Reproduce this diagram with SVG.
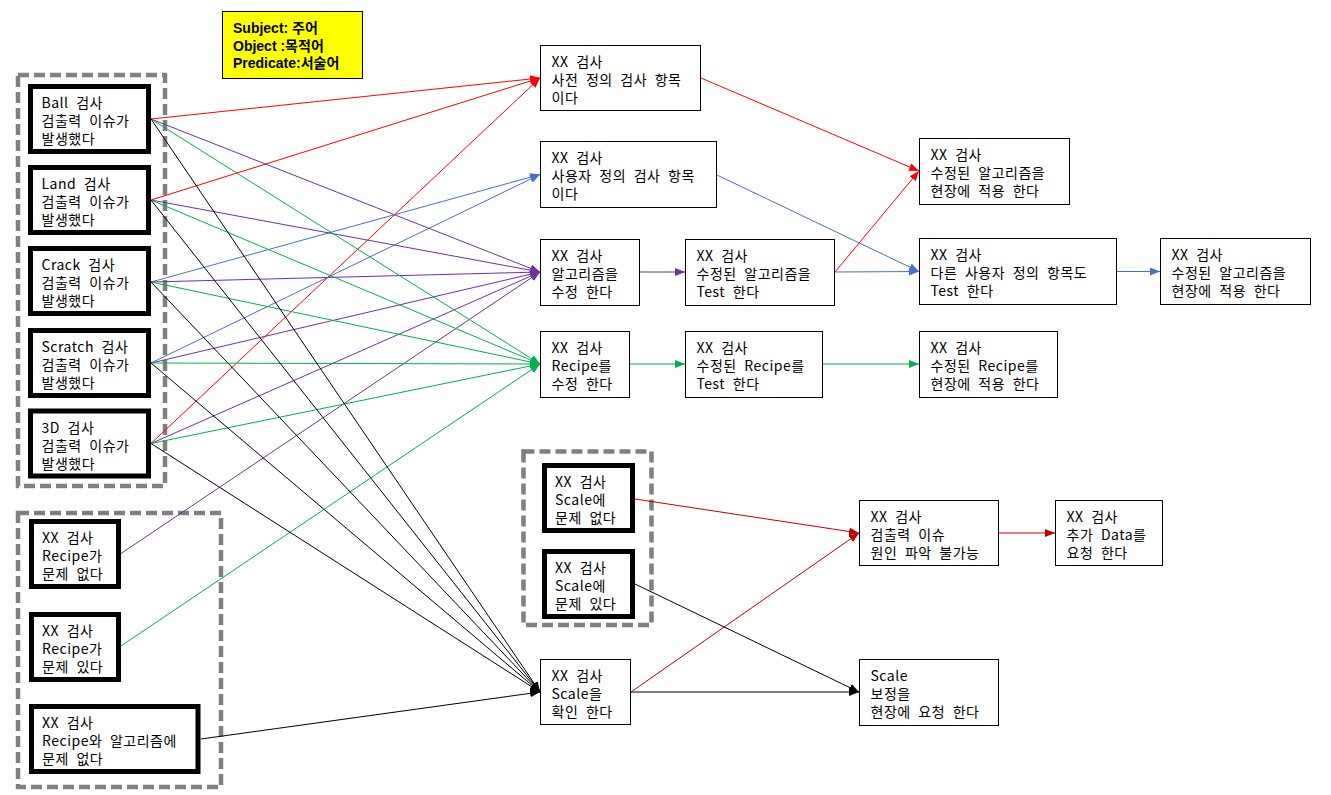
<svg xmlns="http://www.w3.org/2000/svg" width="1331" height="795" viewBox="0 0 1331 795">
  <style>
    .n rect { fill: #fff; stroke: #000; stroke-width: 1; }
    .n.thick rect { stroke-width: 5; }
    .n text { font-family: "Noto Sans CJK KR", "Noto Sans", sans-serif; font-size: 14px; letter-spacing: 0.5px; word-spacing: 4px; fill: #000; }
    .grp { fill: none; stroke: #808080; stroke-width: 4.5; stroke-dasharray: 11 5; }
    .legend rect { fill: #ffff00; stroke: #000; stroke-width: 1; }
    .legend text { font-family: "Liberation Sans", "Noto Sans CJK KR", sans-serif; font-size: 14px; font-weight: bold; fill: #000; }
    #edges line { fill: none; stroke-width: 1; }
    .red { stroke: #ff0000; marker-end: url(#ah-red); }
    .blue { stroke: #4472c4; marker-end: url(#ah-blue); }
    .purple { stroke: #7030a0; marker-end: url(#ah-purple); }
    .green { stroke: #00b050; marker-end: url(#ah-green); }
    .black { stroke: #000; marker-end: url(#ah-black); }
    .dred { stroke: #c00000; marker-end: url(#ah-dred); }
  </style>
  <defs>
    <marker id="ah-red" viewBox="0 0 10 8" refX="10" refY="4" markerWidth="10" markerHeight="8" orient="auto" markerUnits="userSpaceOnUse"><path d="M0,0 L10,4 L0,8 z" fill="#ff0000"/></marker>
    <marker id="ah-blue" viewBox="0 0 10 8" refX="10" refY="4" markerWidth="10" markerHeight="8" orient="auto" markerUnits="userSpaceOnUse"><path d="M0,0 L10,4 L0,8 z" fill="#4472c4"/></marker>
    <marker id="ah-purple" viewBox="0 0 10 8" refX="10" refY="4" markerWidth="10" markerHeight="8" orient="auto" markerUnits="userSpaceOnUse"><path d="M0,0 L10,4 L0,8 z" fill="#7030a0"/></marker>
    <marker id="ah-green" viewBox="0 0 10 8" refX="10" refY="4" markerWidth="10" markerHeight="8" orient="auto" markerUnits="userSpaceOnUse"><path d="M0,0 L10,4 L0,8 z" fill="#00b050"/></marker>
    <marker id="ah-black" viewBox="0 0 10 8" refX="10" refY="4" markerWidth="10" markerHeight="8" orient="auto" markerUnits="userSpaceOnUse"><path d="M0,0 L10,4 L0,8 z" fill="#000"/></marker>
    <marker id="ah-dred" viewBox="0 0 10 8" refX="10" refY="4" markerWidth="10" markerHeight="8" orient="auto" markerUnits="userSpaceOnUse"><path d="M0,0 L10,4 L0,8 z" fill="#c00000"/></marker>
  </defs>

  <rect width="1331" height="795" fill="#fff"/>

  <!-- legend -->
  <g id="legend" class="legend">
    <rect x="222.5" y="11.5" width="140" height="67"/>
    <text x="233" y="33">Subject: 주어</text>
    <text x="233" y="51">Object :목적어</text>
    <text x="233" y="68">Predicate:서술어</text>
  </g>

  <!-- dashed grouping frames -->
  <g id="frames">
    <rect class="grp" x="18" y="75" width="147" height="411"/>
    <rect class="grp" x="18" y="513" width="203" height="274"/>
    <rect class="grp" x="523.5" y="451.5" width="128" height="173.5"/>
  </g>

  <!-- connectors -->
  <g id="edges">
    <!-- to 사전 정의 검사 항목 -->
    <line class="red" x1="151" y1="119" x2="540" y2="78"/>
    <line class="red" x1="151" y1="200" x2="540" y2="78"/>
    <line class="red" x1="151" y1="443.5" x2="540" y2="78"/>
    <!-- to 사용자 정의 검사 항목 -->
    <line class="blue" x1="151" y1="282" x2="540" y2="174.5"/>
    <line class="blue" x1="151" y1="363" x2="540" y2="174.5"/>
    <!-- to 알고리즘을 수정 -->
    <line class="purple" x1="151" y1="119" x2="540" y2="272"/>
    <line class="purple" x1="151" y1="200" x2="540" y2="272"/>
    <line class="purple" x1="151" y1="282" x2="540" y2="272"/>
    <line class="purple" x1="151" y1="363" x2="540" y2="272"/>
    <line class="purple" x1="151" y1="443.5" x2="540" y2="272"/>
    <line class="purple" x1="121" y1="553.5" x2="540" y2="272"/>
    <!-- to Recipe를 수정 -->
    <line class="green" x1="151" y1="119" x2="540" y2="364"/>
    <line class="green" x1="151" y1="200" x2="540" y2="364"/>
    <line class="green" x1="151" y1="282" x2="540" y2="364"/>
    <line class="green" x1="151" y1="363" x2="540" y2="364"/>
    <line class="green" x1="151" y1="443.5" x2="540" y2="364"/>
    <line class="green" x1="121" y1="646" x2="540" y2="364"/>
    <!-- to Scale을 확인 -->
    <line class="black" x1="151" y1="119" x2="540" y2="692"/>
    <line class="black" x1="151" y1="200" x2="540" y2="692"/>
    <line class="black" x1="151" y1="282" x2="540" y2="692"/>
    <line class="black" x1="151" y1="363" x2="540" y2="692"/>
    <line class="black" x1="151" y1="443.5" x2="540" y2="692"/>
    <line class="black" x1="201" y1="739" x2="540" y2="692"/>
    <!-- downstream chains -->
    <line class="red" x1="701" y1="78" x2="919" y2="171"/>
    <line class="blue" x1="717" y1="175" x2="919" y2="271.5"/>
    <line class="purple" x1="640" y1="272" x2="685" y2="272"/>
    <line class="red" x1="835" y1="272" x2="919" y2="171"/>
    <line class="blue" x1="835" y1="272" x2="919" y2="271.5"/>
    <line class="blue" x1="1117" y1="271.5" x2="1160" y2="271.5"/>
    <line class="green" x1="630" y1="364" x2="685" y2="364"/>
    <line class="green" x1="823" y1="364" x2="919" y2="364"/>
    <!-- scale branch -->
    <line class="dred" x1="635" y1="499" x2="859" y2="533"/>
    <line class="dred" x1="631" y1="692" x2="859" y2="533"/>
    <line class="black" x1="635" y1="584" x2="859" y2="692"/>
    <line class="black" x1="631" y1="692" x2="859" y2="692"/>
    <line class="dred" x1="999" y1="533" x2="1055" y2="533"/>
  </g>

  <!-- inspection issue nodes -->
  <g id="n-ball" class="n thick">
    <rect x="30.5" y="86.5" width="118" height="65"/>
    <text x="41.5" y="108">Ball 검사<tspan x="41.5" dy="18">검출력 이슈가</tspan><tspan x="41.5" dy="18">발생했다</tspan></text>
  </g>
  <g id="n-land" class="n thick">
    <rect x="30.5" y="167.5" width="118" height="65"/>
    <text x="41.5" y="189">Land 검사<tspan x="41.5" dy="18">검출력 이슈가</tspan><tspan x="41.5" dy="18">발생했다</tspan></text>
  </g>
  <g id="n-crack" class="n thick">
    <rect x="30.5" y="248.5" width="118" height="65"/>
    <text x="41.5" y="270">Crack 검사<tspan x="41.5" dy="18">검출력 이슈가</tspan><tspan x="41.5" dy="18">발생했다</tspan></text>
  </g>
  <g id="n-scratch" class="n thick">
    <rect x="30.5" y="330.5" width="118" height="65"/>
    <text x="41.5" y="352">Scratch 검사<tspan x="41.5" dy="18">검출력 이슈가</tspan><tspan x="41.5" dy="18">발생했다</tspan></text>
  </g>
  <g id="n-3d" class="n thick">
    <rect x="30.5" y="411" width="118" height="65"/>
    <text x="41.5" y="432.5">3D 검사<tspan x="41.5" dy="18">검출력 이슈가</tspan><tspan x="41.5" dy="18">발생했다</tspan></text>
  </g>

  <!-- recipe status nodes -->
  <g id="n-recipe-ok" class="n thick">
    <rect x="31.5" y="521.5" width="87" height="65"/>
    <text x="42" y="543">XX 검사<tspan x="42" dy="18">Recipe가</tspan><tspan x="42" dy="18">문제 없다</tspan></text>
  </g>
  <g id="n-recipe-ng" class="n thick">
    <rect x="31.5" y="614.5" width="87" height="65"/>
    <text x="42" y="636">XX 검사<tspan x="42" dy="18">Recipe가</tspan><tspan x="42" dy="18">문제 있다</tspan></text>
  </g>
  <g id="n-recipe-algo-ok" class="n thick">
    <rect x="31.5" y="706.5" width="166.5" height="65"/>
    <text x="42" y="728">XX 검사<tspan x="42" dy="18">Recipe와 알고리즘에</tspan><tspan x="42" dy="18">문제 없다</tspan></text>
  </g>

  <!-- action nodes -->
  <g id="n-predef" class="n">
    <rect x="540.5" y="45.5" width="160" height="65"/>
    <text x="551.5" y="66.5">XX 검사<tspan x="551.5" dy="18">사전 정의 검사 항목</tspan><tspan x="551.5" dy="18">이다</tspan></text>
  </g>
  <g id="n-userdef" class="n">
    <rect x="540.5" y="141.5" width="176" height="66"/>
    <text x="551.5" y="163">XX 검사<tspan x="551.5" dy="18">사용자 정의 검사 항목</tspan><tspan x="551.5" dy="18">이다</tspan></text>
  </g>
  <g id="n-algo-fix" class="n">
    <rect x="540.5" y="239.5" width="99" height="66"/>
    <text x="551.5" y="261">XX 검사<tspan x="551.5" dy="18">알고리즘을</tspan><tspan x="551.5" dy="18">수정 한다</tspan></text>
  </g>
  <g id="n-algo-test" class="n">
    <rect x="685.5" y="239.5" width="149" height="66"/>
    <text x="696.5" y="261">XX 검사<tspan x="696.5" dy="18">수정된 알고리즘을</tspan><tspan x="696.5" dy="18">Test 한다</tspan></text>
  </g>
  <g id="n-recipe-fix" class="n">
    <rect x="540.5" y="331.5" width="89" height="66"/>
    <text x="551.5" y="353">XX 검사<tspan x="551.5" dy="18">Recipe를</tspan><tspan x="551.5" dy="18">수정 한다</tspan></text>
  </g>
  <g id="n-recipe-test" class="n">
    <rect x="685.5" y="331.5" width="137" height="66"/>
    <text x="696.5" y="353">XX 검사<tspan x="696.5" dy="18">수정된 Recipe를</tspan><tspan x="696.5" dy="18">Test 한다</tspan></text>
  </g>
  <g id="n-algo-apply-1" class="n">
    <rect x="919.5" y="138.5" width="150" height="66"/>
    <text x="930.5" y="160">XX 검사<tspan x="930.5" dy="18">수정된 알고리즘을</tspan><tspan x="930.5" dy="18">현장에 적용 한다</tspan></text>
  </g>
  <g id="n-other-test" class="n">
    <rect x="919.5" y="238.5" width="197" height="66"/>
    <text x="930.5" y="260">XX 검사<tspan x="930.5" dy="18">다른 사용자 정의 항목도</tspan><tspan x="930.5" dy="18">Test 한다</tspan></text>
  </g>
  <g id="n-algo-apply-2" class="n">
    <rect x="1160.5" y="238.5" width="150" height="66"/>
    <text x="1171.5" y="260">XX 검사<tspan x="1171.5" dy="18">수정된 알고리즘을</tspan><tspan x="1171.5" dy="18">현장에 적용 한다</tspan></text>
  </g>
  <g id="n-recipe-apply" class="n">
    <rect x="919.5" y="331.5" width="138" height="66"/>
    <text x="930.5" y="353">XX 검사<tspan x="930.5" dy="18">수정된 Recipe를</tspan><tspan x="930.5" dy="18">현장에 적용 한다</tspan></text>
  </g>

  <!-- scale nodes -->
  <g id="n-scale-ok" class="n thick">
    <rect x="544.5" y="465.5" width="88" height="65"/>
    <text x="555" y="487">XX 검사<tspan x="555" dy="18">Scale에</tspan><tspan x="555" dy="18">문제 없다</tspan></text>
  </g>
  <g id="n-scale-ng" class="n thick">
    <rect x="544.5" y="551.5" width="88" height="65"/>
    <text x="555" y="573">XX 검사<tspan x="555" dy="18">Scale에</tspan><tspan x="555" dy="18">문제 있다</tspan></text>
  </g>
  <g id="n-scale-check" class="n">
    <rect x="540.5" y="659.5" width="90" height="65"/>
    <text x="551.5" y="681">XX 검사<tspan x="551.5" dy="18">Scale을</tspan><tspan x="551.5" dy="18">확인 한다</tspan></text>
  </g>
  <g id="n-unknown" class="n">
    <rect x="859.5" y="500.5" width="139" height="65"/>
    <text x="870.5" y="522">XX 검사<tspan x="870.5" dy="18">검출력 이슈</tspan><tspan x="870.5" dy="18">원인 파악 불가능</tspan></text>
  </g>
  <g id="n-more-data" class="n">
    <rect x="1055.5" y="500.5" width="107" height="65"/>
    <text x="1066.5" y="522">XX 검사<tspan x="1066.5" dy="18">추가 Data를</tspan><tspan x="1066.5" dy="18">요청 한다</tspan></text>
  </g>
  <g id="n-scale-cal" class="n">
    <rect x="859.5" y="659.5" width="139" height="66"/>
    <text x="870.5" y="681">Scale<tspan x="870.5" dy="18">보정을</tspan><tspan x="870.5" dy="18">현장에 요청 한다</tspan></text>
  </g>
</svg>
